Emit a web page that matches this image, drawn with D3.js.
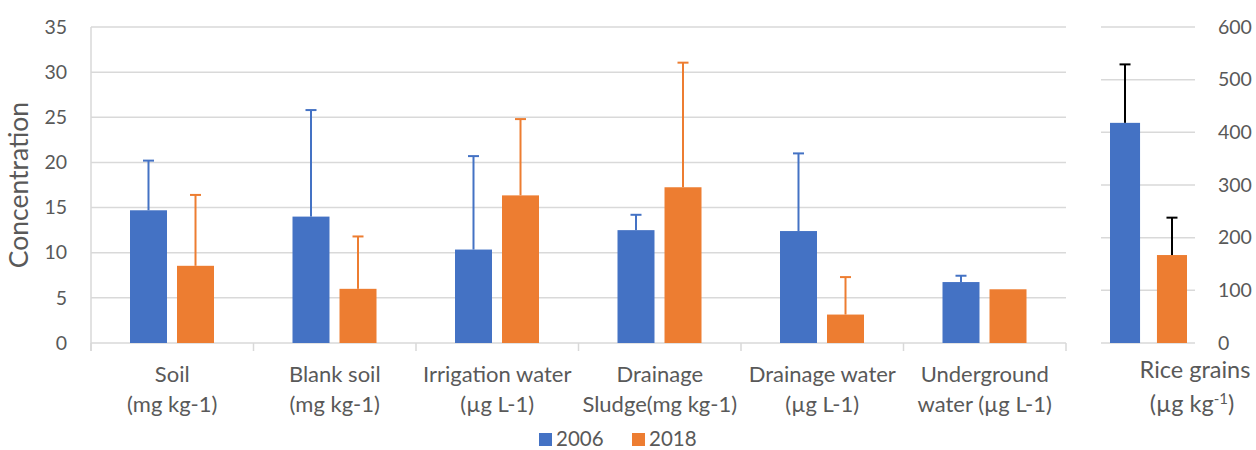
<!DOCTYPE html>
<html>
<head>
<meta charset="utf-8">
<script src="https://cdn.jsdelivr.net/npm/d3@7"></script>
<style>
  body { margin: 0; background: #fff; }
  svg text { font-family: Lato, "Open Sans", sans-serif; fill: #595959; }
</style>
</head>
<body>
<svg id="chart" width="1256" height="450"></svg>
<script>
// Datos
var categories = ["Soil", "Blank soil", "Irrigation water", "Drainage sludge", "Drainage water", "Underground water"];
var categoryLines = [
  ["Soil", "(mg kg-1)"],
  ["Blank soil", "(mg kg-1)"],
  ["Irrigation water", "(µg L-1)"],
  ["Drainage", "Sludge(mg kg-1)"],
  ["Drainage water", "(µg L-1)"],
  ["Underground", "water (µg L-1)"]
];
var years = ["2006", "2018"];
var values2006 = [14.7, 14.0, 10.35, 12.5, 12.4, 6.75];
var errors2006 = [5.5, 11.8, 10.35, 1.7, 8.6, 0.7];
var values2018 = [8.55, 6.0, 16.35, 17.25, 3.15, 5.95];
var errors2018 = [7.85, 5.8, 8.45, 13.8, 4.15, 0];
var riceValues = [418, 167];
var riceErrors = [111, 71];
var leftTicks = [0, 5, 10, 15, 20, 25, 30, 35];
var rightTicks = [0, 100, 200, 300, 400, 500, 600];

var colors = { "2006": "#4472c4", "2018": "#ed7d31" };
var grid = "#d9d9d9";

var svg = d3.select("#chart");

// Escalas
var y = d3.scaleLinear().domain([0, 35]).range([343, 27]);
var yR = d3.scaleLinear().domain([0, 600]).range([343, 27]);
var x0 = d3.scaleBand().domain(categories).range([91, 1066]);
var x1 = d3.scaleBand().domain(years).range([39, 123]).paddingInner(0.213);
var xR = d3.scaleBand().domain(years).range([1110, 1187]).paddingInner(0.36);

// Grilla izquierda
svg.append("g").selectAll("line").data(leftTicks.slice(1)).enter().append("line")
  .attr("x1", 91).attr("x2", 1066)
  .attr("y1", function (d) { return y(d); }).attr("y2", function (d) { return y(d); })
  .attr("stroke", grid).attr("stroke-width", 1.5);

// Eje Y izquierdo
var yAxis = d3.axisLeft(y).tickValues(leftTicks).tickSize(0).tickPadding(24);
var gy = svg.append("g").attr("transform", "translate(91,0)").call(yAxis);
gy.select(".domain").remove();
gy.selectAll("text").attr("font-size", 19.5).style("font-family", "Lato, sans-serif").attr("fill", "#595959");
svg.append("line").attr("x1", 91).attr("x2", 91).attr("y1", 27).attr("y2", 351)
  .attr("stroke", grid).attr("stroke-width", 1.5);

// Eje X
svg.append("line").attr("x1", 91).attr("x2", 1066).attr("y1", y(0)).attr("y2", y(0))
  .attr("stroke", grid).attr("stroke-width", 1.5);
var bounds = categories.map(function (c) { return x0(c); }).concat([x0.range()[1]]);
svg.append("g").selectAll("line").data(bounds).enter().append("line")
  .attr("x1", function (d) { return d; }).attr("x2", function (d) { return d; })
  .attr("y1", y(0)).attr("y2", 351)
  .attr("stroke", grid).attr("stroke-width", 1.5);

// Etiquetas de categorías
var labels = svg.append("g").selectAll("text").data(categoryLines).enter().append("text")
  .attr("text-anchor", "middle").attr("font-size", 22)
  .attr("x", function (d, i) { return x0(categories[i]) + x0.bandwidth() / 2; });
labels.selectAll("tspan").data(function (d) { return d; }).enter().append("tspan")
  .attr("x", function () { return d3.select(this.parentNode).attr("x"); })
  .attr("y", function (d, j) { return 382 + j * 30; })
  .text(function (d) { return d; });

// Título Y
svg.append("text").attr("transform", "translate(28,185) rotate(-90)")
  .attr("text-anchor", "middle").attr("font-size", 26.5).text("Concentration");

// Barras izquierda
var series = [
  { year: "2006", values: values2006, errors: errors2006 },
  { year: "2018", values: values2018, errors: errors2018 }
];
series.forEach(function (s) {
  var g = svg.append("g");
  var data = categories.map(function (c, i) { return { cat: c, v: s.values[i], e: s.errors[i] }; });
  g.selectAll("rect").data(data).enter().append("rect")
    .attr("x", function (d) { return x0(d.cat) + x1(s.year); })
    .attr("width", x1.bandwidth())
    .attr("y", function (d) { return y(d.v); })
    .attr("height", function (d) { return y(0) - y(d.v); })
    .attr("fill", colors[s.year]);
  var eb = g.selectAll(".err").data(data.filter(function (d) { return d.e > 0; })).enter().append("g");
  eb.append("line")
    .attr("x1", function (d) { return x0(d.cat) + x1(s.year) + x1.bandwidth() / 2; })
    .attr("x2", function (d) { return x0(d.cat) + x1(s.year) + x1.bandwidth() / 2; })
    .attr("y1", function (d) { return y(d.v); })
    .attr("y2", function (d) { return y(d.v + d.e); })
    .attr("stroke", colors[s.year]).attr("stroke-width", 2);
  eb.append("line")
    .attr("x1", function (d) { return x0(d.cat) + x1(s.year) + x1.bandwidth() / 2 - 5.5; })
    .attr("x2", function (d) { return x0(d.cat) + x1(s.year) + x1.bandwidth() / 2 + 5.5; })
    .attr("y1", function (d) { return y(d.v + d.e); })
    .attr("y2", function (d) { return y(d.v + d.e); })
    .attr("stroke", colors[s.year]).attr("stroke-width", 2);
});

// Panel derecho (Rice grains)
svg.append("g").selectAll("line").data(rightTicks).enter().append("line")
  .attr("x1", 1101).attr("x2", 1195)
  .attr("y1", function (d) { return yR(d); }).attr("y2", function (d) { return yR(d); })
  .attr("stroke", grid).attr("stroke-width", 1.5);

var yAxisR = d3.axisRight(yR).tickValues(rightTicks).tickSize(0).tickPadding(23);
var gyR = svg.append("g").attr("transform", "translate(1195,0)").call(yAxisR);
gyR.select(".domain").remove();
gyR.selectAll("text").attr("font-size", 19.5).style("font-family", "Lato, sans-serif").attr("fill", "#595959");

var rice = years.map(function (yr, i) { return { year: yr, v: riceValues[i], e: riceErrors[i] }; });
svg.append("g").selectAll("rect").data(rice).enter().append("rect")
  .attr("x", function (d) { return xR(d.year); })
  .attr("width", xR.bandwidth())
  .attr("y", function (d) { return yR(d.v); })
  .attr("height", function (d) { return yR(0) - yR(d.v); })
  .attr("fill", function (d) { return colors[d.year]; });
var ebR = svg.append("g").selectAll("g").data(rice).enter().append("g");
ebR.append("line")
  .attr("x1", function (d) { return xR(d.year) + xR.bandwidth() / 2; })
  .attr("x2", function (d) { return xR(d.year) + xR.bandwidth() / 2; })
  .attr("y1", function (d) { return yR(d.v); })
  .attr("y2", function (d) { return yR(d.v + d.e); })
  .attr("stroke", "#000").attr("stroke-width", 2);
ebR.append("line")
  .attr("x1", function (d) { return xR(d.year) + xR.bandwidth() / 2 - 5.5; })
  .attr("x2", function (d) { return xR(d.year) + xR.bandwidth() / 2 + 5.5; })
  .attr("y1", function (d) { return yR(d.v + d.e); })
  .attr("y2", function (d) { return yR(d.v + d.e); })
  .attr("stroke", "#000").attr("stroke-width", 2);

var riceLabel = svg.append("text").attr("text-anchor", "middle").attr("font-size", 23.5);
riceLabel.append("tspan").attr("x", 1195).attr("y", 378).text("Rice grains");
var l2 = svg.append("text").attr("text-anchor", "middle").attr("font-size", 23.5)
  .attr("x", 1192).attr("y", 412);
l2.append("tspan").text("(µg kg");
l2.append("tspan").attr("dy", -8).attr("font-size", 15).text("-1");
l2.append("tspan").attr("dy", 8).text(")");

// Leyenda
var legend = svg.append("g").selectAll("g").data(years).enter().append("g")
  .attr("transform", function (d, i) { return "translate(" + (539 + i * 93) + ",433)"; });
legend.append("rect").attr("width", 13).attr("height", 13).attr("y", 0)
  .attr("fill", function (d) { return colors[d]; });
legend.append("text").attr("x", 17).attr("y", 12.5).attr("font-size", 20.5)
  .text(function (d) { return d; });
</script>
</body>
</html>
